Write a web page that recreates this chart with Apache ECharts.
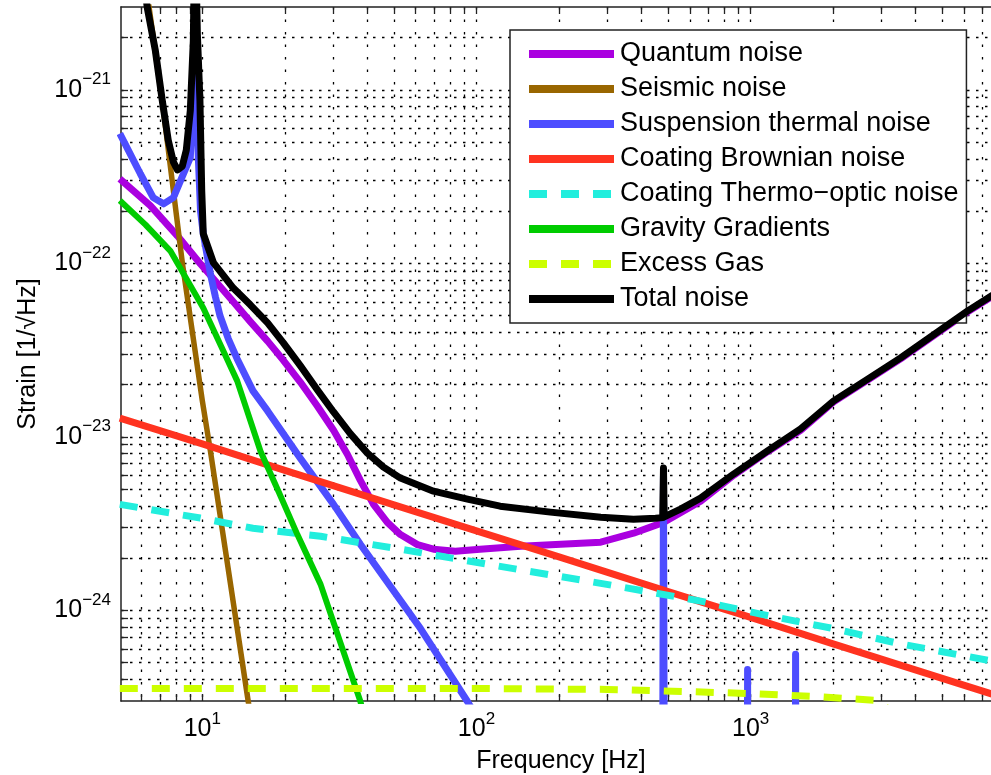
<!DOCTYPE html>
<html>
<head>
<meta charset="utf-8">
<script src="https://cdn.jsdelivr.net/npm/echarts@6/dist/echarts.min.js"></script>
<style>
html,body{margin:0;padding:0;background:#fff;}
#chart{width:991px;height:775px;}
</style>
</head>
<body>
<div id="chart"></div>
<script>
// ---- tick values ----
const xMajorTicks = [10, 100, 1000];
const xMinorTicks = [6, 7, 8, 9, 20, 30, 40, 50, 60, 70, 80, 90, 200, 300, 400, 500, 600, 700, 800, 900, 2000, 3000, 4000, 5000, 6000, 7000, 8000];
const yMajorTicks = [1e-24, 1e-23, 1e-22, 1e-21];
const yMinorTicks = [4e-25, 5e-25, 6e-25, 7e-25, 8e-25, 9e-25,
  2e-24, 3e-24, 4e-24, 5e-24, 6e-24, 7e-24, 8e-24, 9e-24,
  2e-23, 3e-23, 4e-23, 5e-23, 6e-23, 7e-23, 8e-23, 9e-23,
  2e-22, 3e-22, 4e-22, 5e-22, 6e-22, 7e-22, 8e-22, 9e-22,
  2e-21];

// ---- series data: [frequency Hz, strain 1/sqrt(Hz)] ----
const quantumNoise = [[5, 3.07e-22], [6.46, 2.15e-22], [8.11, 1.44e-22], [9.83, 9.94e-23], [12.97, 6.0e-23], [14.96, 4.61e-23], [17.3, 3.56e-23], [19.75, 2.76e-23], [22.8, 2.06e-23], [26.3, 1.5e-23], [30.1, 1.09e-23], [33.8, 7.93e-24], [37.7, 5.61e-24], [42.1, 4.08e-24], [47.3, 3.21e-24], [52.8, 2.73e-24], [60.9, 2.39e-24], [69.7, 2.25e-24], [83.7, 2.19e-24], [103, 2.25e-24], [145, 2.34e-24], [284, 2.47e-24], [374, 2.78e-24], [481, 3.21e-24], [657, 4.25e-24], [867, 6.0e-24], [1153, 8.2e-24], [1522, 1.09e-23], [2009, 1.59e-23], [2673, 2.12e-23], [3525, 2.81e-23], [6195, 5.25e-23], [10000, 8.5e-23]];
const seismicNoise = [[6.0, 6.0e-21], [6.34, 3.28e-21], [7.14, 8.67e-22], [8.45, 1.01e-22], [10, 1.61e-23], [10.7, 8.3e-24], [14.7, 2.99e-25], [15.5, 1.8e-25]];
const suspensionThermal = [[5, 5.6e-22], [5.94, 3.28e-22], [6.62, 2.39e-22], [7.22, 2.2e-22], [7.84, 2.39e-22], [8.53, 3.28e-22], [9.04, 4.07e-22], [9.2, 8e-22], [9.35, 2e-21], [9.5, 8e-22], [9.85, 2.0e-22], [10.08, 1.48e-22], [10.7, 8.7e-23], [11.16, 6.41e-23], [11.6, 4.98e-23], [12.44, 3.67e-23], [13.4, 2.81e-23], [15.3, 1.84e-23], [17.3, 1.41e-23], [22.8, 7.5e-24], [30.1, 4.08e-24], [37.7, 2.4e-24], [62.5, 7.85e-25], [92.7, 2.98e-25], [110, 1.9e-25], [474, 1e-27], [481, 6.2e-24], [488, 1e-27], [968, 1e-27], [975, 4.56e-25], [982, 1e-27], [1448, 1e-27], [1459, 5.57e-25], [1470, 1e-27], [10000, 1e-27]];
const coatingBrownian = [[5, 1.28e-23], [10, 9.1e-24], [20, 6.4e-24], [50, 4.05e-24], [100, 2.87e-24], [200, 2.03e-24], [500, 1.28e-24], [1000, 9.1e-25], [2000, 6.4e-25], [5000, 4.05e-25], [10000, 2.87e-25]];
const coatingThermoOptic = [[5, 4.08e-24], [9.83, 3.4e-24], [15.3, 2.97e-24], [27, 2.67e-24], [52.8, 2.25e-24], [122, 1.79e-24], [284, 1.43e-24], [657, 1.13e-24], [1088, 9.5e-25], [1958, 7.9e-25], [3525, 6.4e-25], [7590, 5.1e-25], [10000, 4.7e-25]];
const gravityGradients = [[5, 2.3e-22], [6.2, 1.67e-22], [7.64, 1.18e-22], [8.8, 8.0e-23], [10.08, 5.53e-23], [11.7, 3.34e-23], [13.4, 2.1e-23], [16.3, 8.26e-24], [19, 4.8e-24], [22.2, 2.74e-24], [27, 1.41e-24], [37.7, 2.99e-25], [40, 2.1e-25]];
const excessGas = [[5, 3.54e-25], [100, 3.54e-25], [300, 3.5e-25], [580, 3.4e-25], [1016, 3.31e-25], [1757, 3.18e-25], [2900, 3.02e-25], [3500, 2.4e-25]];
const totalNoise = [[6.0, 5.5e-21], [6.3, 2.96e-21], [6.74, 1.68e-21], [7.14, 8.7e-22], [7.51, 5.12e-22], [7.84, 3.84e-22], [8.11, 3.45e-22], [8.45, 3.63e-22], [8.74, 4.49e-22], [9.04, 7.6e-22], [9.27, 1.91e-21], [9.4, 1e-20], [9.59, 2.1e-21], [9.8, 8.7e-22], [9.95, 2.6e-22], [10.08, 1.48e-22], [10.97, 1.01e-22], [12.97, 7.2e-23], [14.96, 5.76e-23], [17.3, 4.53e-23], [19.75, 3.48e-23], [22.8, 2.56e-23], [26.3, 1.86e-23], [30.1, 1.39e-23], [34.7, 1.04e-23], [40, 8.05e-24], [45.8, 6.68e-24], [52.8, 5.78e-24], [69.7, 4.86e-24], [92.7, 4.37e-24], [122, 3.98e-24], [186, 3.68e-24], [284, 3.44e-24], [374, 3.35e-24], [450, 3.39e-24], [478, 3.42e-24], [481, 6.6e-24], [484, 3.45e-24], [555, 3.83e-24], [657, 4.43e-24], [867, 6.1e-24], [1153, 8.3e-24], [1522, 1.11e-23], [2009, 1.61e-23], [2673, 2.15e-23], [3525, 2.85e-23], [6195, 5.32e-23], [10000, 8.6e-23]];

const seriesNames = ['Quantum noise', 'Seismic noise', 'Suspension thermal noise', 'Coating Brownian noise', 'Coating Thermo\u2212optic noise', 'Gravity Gradients', 'Excess Gas', 'Total noise'];
const seriesData = [quantumNoise, seismicNoise, suspensionThermal, coatingBrownian, coatingThermoOptic, gravityGradients, excessGas, totalNoise];
const seriesColors = ['#aa00e0', '#996600', '#4d4dff', '#ff3320', '#22eedd', '#00cc00', '#ccff00', '#000000'];
const seriesWidths = [7, 5.5, 7, 7, 7, 6, 7, 7];
const seriesDashed = [false, false, false, false, true, false, true, false];

// strain axis is drawn in units of 1e-25 (labels show the true powers of ten)
const STRAIN_UNIT = 1e-25;
const UNIT_EXP = -25;
const toUnit = v => v / STRAIN_UNIT;

const FONT = '"Liberation Sans", Arial, Helvetica, sans-serif';
const xAllTicks = xMajorTicks.concat(xMinorTicks).sort((a, b) => a - b);
const yAllTicks = yMajorTicks.concat(yMinorTicks).sort((a, b) => a - b).map(toUnit);

const supRich = {
  b: { fontSize: 25, fontFamily: FONT, color: '#000', verticalAlign: 'bottom', lineHeight: 25 },
  s: { fontSize: 17, fontFamily: FONT, color: '#000', verticalAlign: 'bottom', lineHeight: 17, padding: [0, 0, 14, 0] }
};
function supText(e) {
  return '{b|10}{s|' + (e < 0 ? '\u2212' + (-e) : e) + '}';
}

const chart = echarts.init(document.getElementById('chart'), null, { renderer: 'canvas' });

const X_MIN = 5.05, X_MAX = 8192, Y_MIN = 3e-25, Y_MAX = 3e-21;
const axisLineStyle = { color: '#222', width: 1.5 };
const tickStyle = { color: '#222', width: 1.3 };

const option = {
  backgroundColor: '#fff',
  animation: false,
  grid: { left: 121, top: 7, width: 880, height: 694, containLabel: false, outerBoundsMode: 'none' },
  xAxis: [
    {
      type: 'log', logBase: 10, min: X_MIN, max: X_MAX, position: 'bottom',
      axisLine: { show: true, lineStyle: axisLineStyle },
      axisTick: { show: true, inside: true, length: 7, customValues: xAllTicks, lineStyle: tickStyle },
      axisLabel: { show: true, customValues: xMajorTicks, formatter: v => supText(Math.round(Math.log10(v))), rich: supRich, margin: 16 },
      splitLine: { show: true, lineStyle: { color: '#000', width: 1.3, type: [2.5, 10] } },
      minorTick: { show: false }, minorSplitLine: { show: false },
      name: 'Frequency [Hz]', nameLocation: 'middle', nameGap: 48,
      nameTextStyle: { fontSize: 25, fontFamily: FONT, color: '#000' }
    },
    {
      type: 'log', logBase: 10, min: X_MIN, max: X_MAX, position: 'top',
      axisLine: { show: true, lineStyle: axisLineStyle },
      axisTick: { show: true, inside: true, length: 7, customValues: xAllTicks, lineStyle: tickStyle },
      axisLabel: { show: false }, splitLine: { show: false }
    }
  ],
  yAxis: [
    {
      type: 'log', logBase: 10, min: toUnit(Y_MIN), max: toUnit(Y_MAX), position: 'left',
      axisLine: { show: true, lineStyle: axisLineStyle },
      axisTick: { show: true, inside: true, length: 7, customValues: yAllTicks, lineStyle: tickStyle },
      axisLabel: { show: true, customValues: yMajorTicks.map(toUnit), formatter: v => supText(Math.round(Math.log10(v)) + UNIT_EXP), rich: supRich, margin: 10 },
      splitLine: { show: true, lineStyle: { color: '#000', width: 1.3, type: [2.5, 6.5] } },
      minorTick: { show: false }, minorSplitLine: { show: false },
      name: 'Strain [1/\u221AHz]', nameLocation: 'middle', nameGap: 80,
      nameTextStyle: { fontSize: 25, fontFamily: FONT, color: '#000' }
    }
  ],
  legend: {
    data: seriesNames,
    orient: 'vertical', left: 510, top: 30,
    itemWidth: 85, itemHeight: 35, itemGap: 7,
    padding: [10, 8, 10, 15],
    backgroundColor: '#fff', borderColor: '#222', borderWidth: 1.5, borderRadius: 0,
    selectedMode: false,
    itemStyle: { opacity: 0, borderWidth: 0 },
    lineStyle: { width: 8 },
    textStyle: { fontSize: 27, fontFamily: FONT, color: '#000', padding: [0, 0, 0, 1] }
  },
  series: seriesNames.map((name, i) => ({
    name: name, type: 'line',
    data: seriesData[i].map(p => [p[0], toUnit(p[1])]),
    symbol: 'none', showSymbol: false, silent: true, clip: true,
    smooth: false,
    lineStyle: { color: seriesColors[i], width: seriesWidths[i], type: seriesDashed[i] ? [18, 14] : 'solid', cap: 'butt', join: 'round' },
    itemStyle: { color: seriesColors[i] },
    z: 2 + i
  }))
};
chart.setOption(option);
</script>
</body>
</html>
